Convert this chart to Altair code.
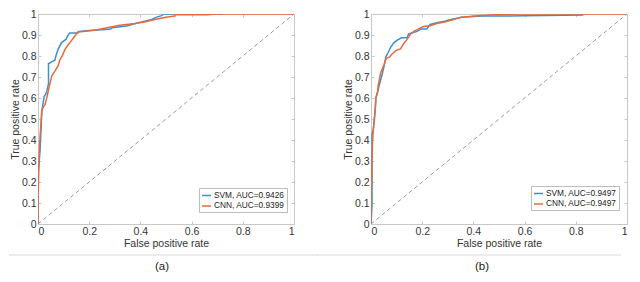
import altair as alt
import pandas as pd

# ---------------- data ----------------
# Panel (a)
a_svm_fpr = [0, 0, 0.001, 0.005, 0.008, 0.01, 0.015, 0.018, 0.024, 0.032, 0.036, 0.041, 0.041, 0.05, 0.066,
             0.07, 0.079, 0.092, 0.109, 0.118, 0.124, 0.156, 0.16, 0.2, 0.25, 0.284, 0.29, 0.35, 0.38, 0.405,
             0.444, 0.463, 0.483, 0.49, 0.6, 0.72]
a_svm_tpr = [0, 0.18, 0.25, 0.3, 0.35, 0.404, 0.54, 0.56, 0.607, 0.623, 0.64, 0.668, 0.763, 0.77, 0.78,
             0.8, 0.834, 0.864, 0.879, 0.9, 0.91, 0.91, 0.917, 0.921, 0.925, 0.929, 0.935, 0.944, 0.955, 0.962,
             0.974, 0.985, 0.992, 1.0, 1.0, 1.0]
a_cnn_fpr = [0, 0, 0.002, 0.003, 0.006, 0.01, 0.015, 0.02, 0.028, 0.037, 0.045, 0.054, 0.066, 0.079, 0.085,
             0.096, 0.105, 0.118, 0.13, 0.143, 0.156, 0.175, 0.227, 0.278, 0.32, 0.38, 0.42, 0.46, 0.5, 0.534,
             0.534, 0.66, 0.7, 1.0]
a_cnn_tpr = [0, 0.118, 0.2, 0.253, 0.374, 0.45, 0.54, 0.555, 0.57, 0.615, 0.66, 0.706, 0.728, 0.754, 0.78,
             0.804, 0.83, 0.854, 0.872, 0.894, 0.914, 0.917, 0.924, 0.937, 0.946, 0.955, 0.963, 0.975, 0.985, 0.99,
             0.997, 0.997, 1.0, 1.0]

# Panel (b)
b_svm_fpr = [0, 0.004, 0.004, 0.004, 0.009, 0.013, 0.017, 0.019, 0.026, 0.032, 0.042, 0.051, 0.058, 0.068,
             0.077, 0.09, 0.103, 0.119, 0.141, 0.147, 0.18, 0.196, 0.218, 0.231, 0.256, 0.288, 0.3, 0.353,
             0.43, 0.5, 0.6, 0.83]
b_svm_tpr = [0, 0.087, 0.253, 0.427, 0.45, 0.5, 0.555, 0.6, 0.63, 0.66, 0.706, 0.751, 0.796, 0.819,
             0.842, 0.864, 0.876, 0.887, 0.887, 0.905, 0.917, 0.929, 0.929, 0.95, 0.959, 0.965, 0.97, 0.985,
             0.99, 0.99, 0.992, 0.995]
b_cnn_fpr = [0, 0, 0.003, 0.006, 0.009, 0.013, 0.017, 0.019, 0.026, 0.028, 0.038, 0.051, 0.06, 0.073, 0.083,
             0.099, 0.115, 0.128, 0.141, 0.155, 0.167, 0.186, 0.205, 0.231, 0.256, 0.288, 0.32, 0.353, 0.43,
             0.5, 0.583, 1.0]
b_cnn_tpr = [0, 0.118, 0.253, 0.39, 0.45, 0.495, 0.555, 0.6, 0.63, 0.66, 0.72, 0.759, 0.789, 0.796, 0.811,
             0.827, 0.834, 0.86, 0.879, 0.905, 0.917, 0.929, 0.94, 0.944, 0.955, 0.962, 0.972, 0.985, 0.993,
             0.997, 1.0, 1.0]

a_labels = ["SVM, AUC=0.9426", "CNN, AUC=0.9399"]
b_labels = ["SVM, AUC=0.9497", "CNN, AUC=0.9497"]
panel_tags = ["(a)", "(b)"]

x_ticks = [0, 0.2, 0.4, 0.6, 0.8, 1]
y_ticks = [0, 0.1, 0.2, 0.3, 0.4, 0.5, 0.6, 0.7, 0.8, 0.9, 1]
diag_x = [0, 1]
diag_y = [0, 1]

# ---------------- style ----------------
W, H = 256, 210
BLUE = "#3a90d6"
ORANGE = "#e66b3b"
FRAME = "#c8c8c8"
TEXT = "#333333"
FONT = "Liberation Sans"


def make_panel(svm_x, svm_y, cnn_x, cnn_y, labels, tag, legend_x, legend_y, sep_x1, sep_x2, tag_x):
    rows = []
    for i, (x, y) in enumerate(zip(svm_x, svm_y)):
        rows.append({"fpr": x, "tpr": y, "model": labels[0], "idx": i})
    for i, (x, y) in enumerate(zip(cnn_x, cnn_y)):
        rows.append({"fpr": x, "tpr": y, "model": labels[1], "idx": i})
    curves = pd.DataFrame(rows)
    diag = pd.DataFrame({"dx": diag_x, "dy": diag_y})

    xs = alt.Scale(domain=[0, 1], nice=False, zero=False)
    ys = alt.Scale(domain=[0, 1], nice=False, zero=False)

    x_main = alt.Axis(orient="bottom", values=x_ticks, format="~g", title="False positive rate",
                      tickSize=0, domain=False, grid=False, labelPadding=2, titlePadding=2,
                      labelFontSize=10.5, titleFontSize=10.5, labelColor=TEXT, titleColor=TEXT,
                      titleFontWeight="normal", labelFont=FONT, titleFont=FONT)
    y_main = alt.Axis(orient="left", values=y_ticks, format="~g", title="True positive rate",
                      tickSize=0, domain=False, grid=False, labelPadding=2, titlePadding=1,
                      labelFontSize=10.5, titleFontSize=10.5, labelColor=TEXT, titleColor=TEXT,
                      titleFontWeight="normal", labelFont=FONT, titleFont=FONT)
    # inward ticks (axes pulled inside the frame with negative offsets)
    x_in_bottom = alt.Axis(orient="top", offset=-H, values=x_ticks, labels=False, domain=False,
                           grid=False, tickSize=3, tickColor=FRAME, title=None)
    x_in_top = alt.Axis(orient="bottom", offset=-H, values=x_ticks, labels=False, domain=False,
                        grid=False, tickSize=3, tickColor=FRAME, title=None)
    y_in_left = alt.Axis(orient="right", offset=-W, values=y_ticks, labels=False, domain=False,
                         grid=False, tickSize=3, tickColor=FRAME, title=None)
    y_in_right = alt.Axis(orient="left", offset=-W, values=y_ticks, labels=False, domain=False,
                          grid=False, tickSize=3, tickColor=FRAME, title=None)

    diag_line = alt.Chart(diag).mark_line(strokeDash=[4, 3], color="#9a9a9a", strokeWidth=1).encode(
        x=alt.X("dx:Q", scale=xs, axis=x_in_bottom),
        y=alt.Y("dy:Q", scale=ys, axis=y_in_left),
    )
    frame = alt.Chart(diag).mark_point(opacity=0).encode(
        x=alt.X("dx:Q", scale=xs, axis=x_in_top),
        y=alt.Y("dy:Q", scale=ys, axis=y_in_right),
    )
    lines = alt.Chart(curves).mark_line(strokeWidth=1.5, clip=True).encode(
        x=alt.X("fpr:Q", scale=xs, axis=x_main),
        y=alt.Y("tpr:Q", scale=ys, axis=y_main),
        color=alt.Color("model:N",
                        scale=alt.Scale(domain=labels, range=[BLUE, ORANGE]),
                        legend=alt.Legend(orient="none", legendX=legend_x, legendY=legend_y, title=None,
                                          symbolType="stroke", symbolSize=80, symbolStrokeWidth=1.5,
                                          labelFontSize=8.3, labelColor="#222222", labelFont=FONT,
                                          strokeColor="#bdbdbd", fillColor="white", padding=2,
                                          rowPadding=1.5, labelOffset=2)),
        order=alt.Order("idx:Q"),
    )
    sep = alt.Chart(pd.DataFrame({"s": [0]})).mark_rule(color="#d9d9d9", strokeWidth=1).encode(
        x=alt.value(sep_x1), x2=alt.value(sep_x2), y=alt.value(H + 31)
    )
    lab = alt.Chart(pd.DataFrame({"t": [tag]})).mark_text(fontSize=11.5, color="#222222", font=FONT).encode(
        text="t:N", x=alt.value(tag_x), y=alt.value(H + 43)
    )
    return alt.layer(diag_line, frame, lines, sep, lab).resolve_axis(
        x="independent", y="independent"
    ).properties(width=W, height=H)


pa = make_panel(a_svm_fpr, a_svm_tpr, a_cnn_fpr, a_cnn_tpr, a_labels, panel_tags[0],
                W - 95, H - 36, -29, 280, 124)
pb = make_panel(b_svm_fpr, b_svm_tpr, b_cnn_fpr, b_cnn_tpr, b_labels, panel_tags[1],
                W - 96, H - 38, -54, 250, 111)

chart = alt.hconcat(pa, pb, spacing=77, bounds="flush").resolve_scale(
    color="independent"
).resolve_legend(color="independent").properties(
    padding={"left": 0, "top": 0, "right": 0, "bottom": 0}
).configure(font=FONT).configure_view(stroke=FRAME, strokeWidth=1)

chart.save("out.html", embed_options={"renderer": "svg", "actions": False})
